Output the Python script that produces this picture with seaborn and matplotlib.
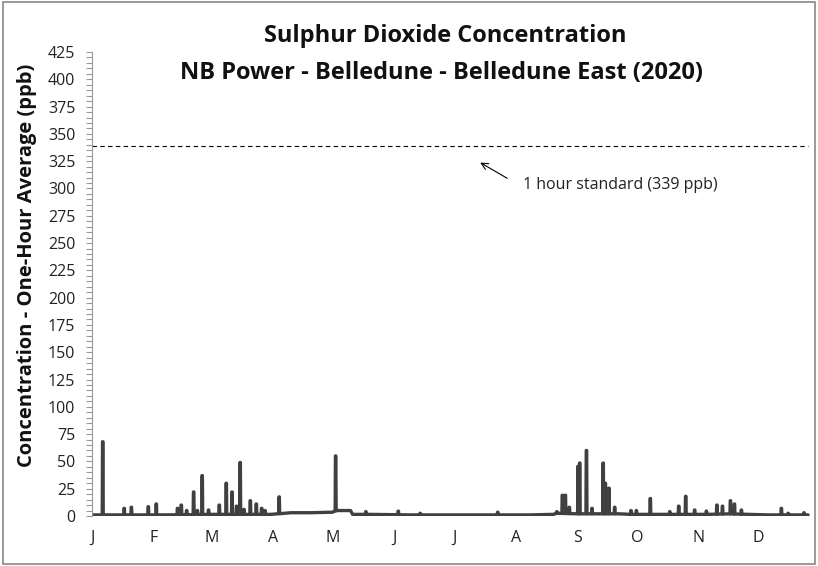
import numpy as np
import pandas as pd
import matplotlib
matplotlib.use("Agg")
import matplotlib.pyplot as plt
from matplotlib.patches import Rectangle
from matplotlib.ticker import MultipleLocator
import seaborn as sns

# ---- data (day of year, ppb) ----
month_labels = ["J", "F", "M", "A", "M", "J", "J", "A", "S", "O", "N", "D"]
month_start_day = [0, 31, 60, 91, 121, 152, 182, 213, 244, 274, 305, 335]

# spikes: day and peak hourly value
spike_day = [5.4, 16.2, 19.8, 28.3, 32.3, 43.0, 44.9, 47.6, 51.1, 53.0, 55.4, 58.6,
             64.0, 67.5, 70.4, 72.7, 74.5, 76.4, 79.6, 82.6, 85.3, 87.0, 94.1,
             122.5, 137.7, 154.0, 165.0, 204.0, 233.7, 236.5, 238.0, 240.0,
             244.4, 245.2, 248.6, 251.4, 257.0, 258.1, 259.9, 262.8, 271.0,
             273.7, 280.7, 290.5, 295.0, 298.5, 303.0, 308.9, 314.2, 317.0,
             321.0, 323.0, 326.5, 346.6, 350.0, 358.0]
spike_ppb = [68, 7, 8, 8.5, 11, 7, 10, 5, 22, 5, 37, 5.5,
             10, 30, 22, 9, 49, 6, 14, 11, 7, 5, 17.5,
             55, 4, 4.5, 2.5, 3.5, 4, 19, 19, 8,
             45.5, 48.5, 60, 7, 48.5, 30, 25.5, 8, 5,
             5, 16, 4, 9, 18, 5.5, 4.5, 10, 9,
             14, 11, 5.5, 7, 2.5, 3]

# background (baseline) level
base_day = [0, 10, 40, 60, 90, 97, 100, 110, 121, 122.8, 130, 131, 140, 160, 180,
            200, 220, 232, 234, 243, 250, 255, 262, 265, 270, 285, 300, 310,
            320, 330, 340, 355, 360]
base_ppb = [1, 1, 1, 1.5, 1.5, 2.5, 3, 3, 3.5, 5, 5, 1.5, 1.5, 1, 1,
            1, 1, 1.5, 2.5, 2, 2, 2, 2, 2, 1.5, 1.5, 1.5, 1.5,
            2, 1.5, 1, 1, 1]

# ---- build the series ----
bd = np.array(base_day, float)
bp = np.array(base_ppb, float)
xs, ys = list(bd), list(bp)
for d, p in zip(spike_day, spike_ppb):
    b = float(np.interp(d, bd, bp))
    xs += [d - 0.25, d - 0.1, d + 0.1, d + 0.25]
    ys += [b, p, p, b]
df = pd.DataFrame({"day": xs, "ppb": ys}).sort_values("day").drop_duplicates("day")

sns.set_theme(style="white")
plt.rcParams["font.family"] = ["Open Sans", "DejaVu Sans"]

fig = plt.figure(figsize=(8.18, 5.66), dpi=100)
ax = fig.add_axes([92 / 818, 50 / 566, 720 / 818, 464 / 566])

sns.lineplot(data=df, x="day", y="ppb", ax=ax, color="#404040", lw=2.4,
             estimator=None, sort=True)

ax.axhline(339, xmin=0, xmax=0.994, color="black", lw=0.8, ls=(0, (4, 3)))
ax.annotate("", xy=(194, 325), xytext=(210, 308),
            arrowprops=dict(arrowstyle="->", color="black", lw=0.8))
ax.text(216.6, 303, "1 hour standard (339 ppb)", ha="left", va="center",
        fontsize=11.5, color="#222222")

ax.set_xlim(0, 362)
ax.set_ylim(0, 425)
ax.set_xticks(month_start_day)
ax.set_xticklabels(month_labels)
ax.yaxis.set_major_locator(MultipleLocator(25))
ax.yaxis.set_minor_locator(MultipleLocator(5))
ax.tick_params(axis="x", length=0, pad=10, labelsize=11.5, colors="#222222")
ax.tick_params(axis="y", which="both", direction="out", length=4, width=0.8,
               color="#999999", left=True, pad=8, labelsize=11.5, labelcolor="#222222")
for s in ["top", "right", "bottom"]:
    ax.spines[s].set_visible(False)
ax.spines["left"].set_color("#999999")
ax.spines["left"].set_linewidth(0.8)
ax.set_xlabel("")
ax.set_ylabel("Concentration - One-Hour Average (ppb)", fontsize=14.5,
              fontweight="bold", color="#111111")
ax.yaxis.set_label_coords(-55 / 720, (516 - 265) / 464)

fig.text(445 / 818, 1 - 36 / 566, "Sulphur Dioxide Concentration", ha="center",
         va="center", fontsize=17, fontweight="bold", color="#111111")
fig.text(442 / 818, 1 - 73 / 566, "NB Power - Belledune - Belledune East (2020)",
         ha="center", va="center", fontsize=17, fontweight="bold", color="#111111")

fig.add_artist(Rectangle((0.004, 0.004), 0.992, 0.992, transform=fig.transFigure,
                         fill=False, edgecolor="#888888", lw=1.2))

fig.savefig("out.png", dpi=100)
